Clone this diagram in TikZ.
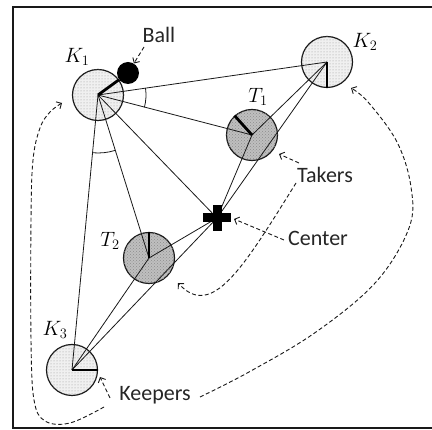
\documentclass[tikz,border=0pt]{standalone}
\usepackage{fontspec}
\setmainfont{Carlito}
\usetikzlibrary{patterns,arrows.meta,calc}

\begin{document}
\begin{tikzpicture}[x=1pt,y=-1pt,
  player/.style={circle, draw=black!90, line width=1.2pt, minimum size=51pt, inner sep=0pt},
  keeper/.style={player, fill=gray!12, postaction={pattern=dots, pattern color=gray!80}},
  taker/.style={player, fill=gray!50, postaction={pattern=crosshatch dots, pattern color=gray!90}},
  link/.style={line width=0.8pt, black!90},
  orient/.style={line width=2.8pt, black, line cap=butt},
  note/.style={line width=0.9pt, black!90, dash pattern=on 4pt off 2.5pt,
    -{Straight Barb[length=4pt, width=8pt, line width=0.9pt]}},
  lab/.style={font=\fontsize{22}{22}\selectfont, text=black!85, inner sep=0pt},
  mlab/.style={font=\huge, inner sep=0pt},
  anglemark/.style={line width=0.8pt, black!90}
]
\useasboundingbox (0,0) rectangle (432,430);
\fill[white] (0,0) rectangle (432,430);

% field frame (right side runs off the page)
\draw[line width=2.2pt, black!90] (13,7) rectangle (445,428);

% players
\node[keeper] (K1) at (98,95) {};
\node[keeper] (K2) at (327,62) {};
\node[keeper] (K3) at (72,370) {};
\node[taker]  (T1) at (252,135) {};
\node[taker]  (T2) at (149,258) {};
\coordinate (C) at (217,218);

% distances used as state variables
\draw[link] (K1.center) -- (K2.center);
\draw[link] (K1.center) -- (T1.center);
\draw[link] (K1.center) -- (C);
\draw[link] (K1.center) -- (T2.center);
\draw[link] (K1.center) -- (K3.center);
\draw[link] (K2.center) -- (T1.center);
\draw[link] (K2.center) -- (C);
\draw[link] (K3.center) -- (T2.center);
\draw[link] (K3.center) -- (C);
\draw[link] (T1.center) -- (C);
\draw[link] (T2.center) -- (C);

% angles at K1
\draw[anglemark] (K1.center) ++(8.2:48pt) arc[start angle=8.2, end angle=-14.9, radius=48pt];
\draw[anglemark] (K1.center) ++(-95.4:58pt) arc[start angle=-95.4, end angle=-72.6, radius=58pt];

% body orientations
\draw[orient] (K1.center) -- (K1.36);
\draw[orient] (K2.center) -- (K2.-90);
\draw[orient] (K3.center) -- (K3.0);
\draw[orient] (T1.center) -- (T1.132);
\draw[orient] (T2.center) -- (T2.90);

% ball
\node[circle, fill=black, minimum size=22pt, inner sep=0pt] (ball) at (128,73) {};

% center of the field
\fill[black] ($(C)+(-14,-4.5)$) rectangle ($(C)+(14,4.5)$);
\fill[black] ($(C)+(-4.5,-13)$) rectangle ($(C)+(4.5,13)$);

% labels
\node[mlab] (k1l) at (77,57) {$K_1$};
\node[mlab] (k2l) at (365,42) {$K_2$};
\node[mlab] (k3l) at (55,330) {$K_3$};
\node[mlab] (t1l) at (258,97) {$T_1$};
\node[mlab] (t2l) at (110,241) {$T_2$};
\node[lab] (ballL) at (159,35) {Ball};
\node[lab] (takL) at (325,175) {Takers};
\node[lab] (cenL) at (318,238) {Center};
\node[lab] (keeL) at (155,395) {Keepers};

% annotation arrows
\draw[note] (144,47) -- (ball);
\draw[note] (299,163) -- (279,154);
\draw[note] (296,183) .. controls (243,268) and (212,320) .. (178,283);
\draw[note] (284,240) -- (234,219);
\draw[note] (110,398) -- (100,377);
\draw[note] plot[smooth, tension=0.6] coordinates {(200,397) (249,372) (316,332) (376,282) (409,228) (411,187) (397,142) (368,102) (351,88)};
\draw[note] plot[smooth, tension=0.6] coordinates {(104,407) (70,423) (45,421) (34,400) (31,340) (31,220) (33,160) (40,128) (50,112) (62,103)};
\end{tikzpicture}
\end{document}
